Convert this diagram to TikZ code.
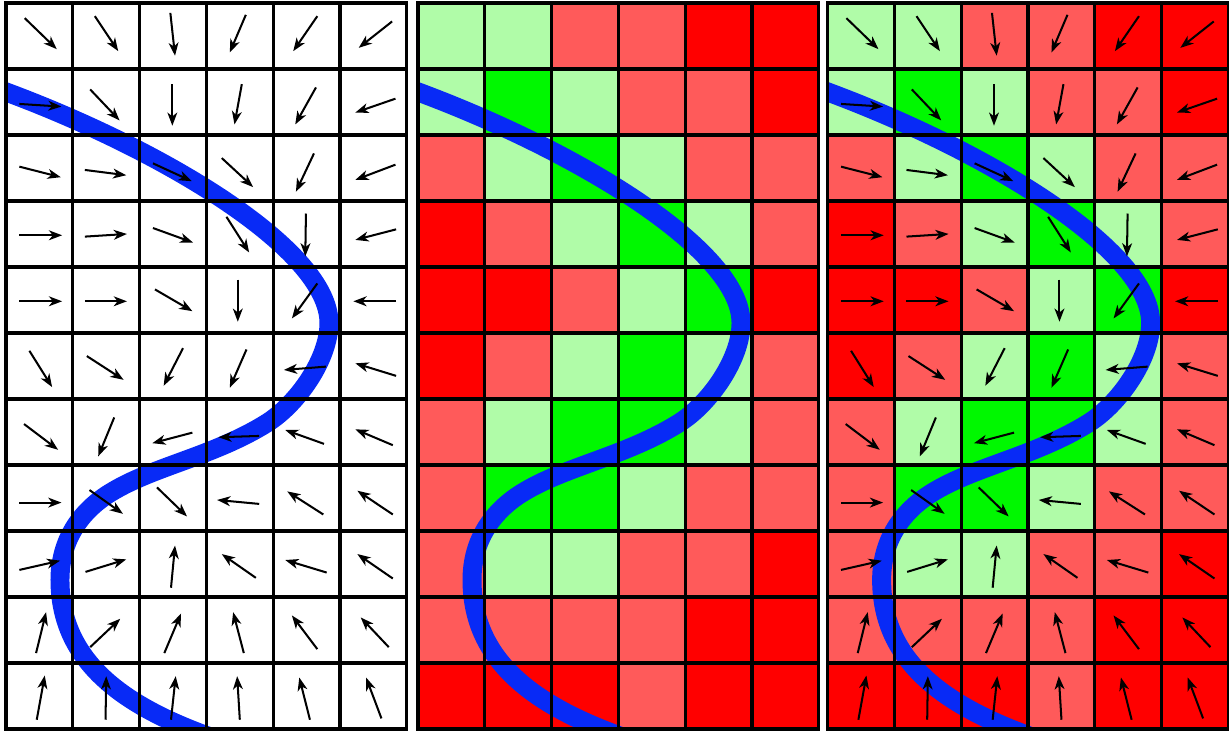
\documentclass[tikz,border=0pt]{standalone}
\usetikzlibrary{arrows.meta}

\definecolor{cellR}{RGB}{255,0,0}
\definecolor{cellP}{RGB}{255,90,90}
\definecolor{cellM}{RGB}{176,252,168}
\definecolor{cellG}{RGB}{0,248,0}
\definecolor{pathBlue}{RGB}{8,42,246}

\tikzset{
  gridline/.style={black, line width=1.8pt, line cap=rect},
  flowarrow/.style={black, line width=1.15pt, -{Stealth[length=7.5pt, width=5.6pt, inset=2.2pt]}},
  cutline/.style={pathBlue, line width=10.8pt},
}

% cell colours, top row first
\newcommand{\fillcells}[1]{%
  \foreach \cols [count=\r from 0] in {{M,M,P,P,R,R},{M,G,M,P,P,R},{P,M,G,M,P,P},
      {R,P,M,G,M,P},{R,R,P,M,G,R},{R,P,M,G,M,P},{P,M,G,G,M,P},{P,G,G,M,P,P},
      {P,M,M,P,P,R},{P,P,P,P,R,R},{R,R,R,P,R,R}}
    \foreach \k [count=\c from 0] in \cols
      \fill[cell\k] ({#1+\c},{10-\r}) rectangle ++(1,1);
}

% the blue line, clipped to its panel
\newcommand{\drawcut}[1]{%
  \begin{scope}
    \clip (#1,0) rectangle ++(6,11);
    \draw[cutline, shift={(#1,0)}] (-0.3,9.765) -- (0,9.652)
      .. controls (2.4,8.75) and (4.835,7.25) .. (4.835,6.152)
      .. controls (4.835,5.6) and (4.357,4.921) .. (3.907,4.636)
      .. controls (3.107,4.13) and (2.2,3.98) .. (1.557,3.576)
      .. controls (1.107,3.294) and (0.808,2.85) .. (0.808,2.258)
      .. controls (0.808,1.0) and (1.8,0.35) .. (2.979,-0.091)
      -- (3.5,-0.286);
  \end{scope}
}

\newcommand{\drawgrid}[1]{%
  \foreach \i in {0,...,6}
    \draw[gridline] ({#1+\i},0) -- ({#1+\i},11);
  \foreach \j in {0,...,11}
    \draw[gridline] (#1,\j) -- ({#1+6},\j);
}

% row/col/start/end, fractions of a cell measured from its top left
\newcommand{\drawflow}[1]{%
  \foreach \r/\c/\xa/\ya/\xb/\yb in {
      0/0/.28/.23/.76/.70, 0/1/.33/.20/.68/.73, 0/2/.46/.15/.53/.80,
      0/3/.59/.18/.35/.75, 0/4/.66/.20/.30/.73, 0/5/.78/.28/.28/.68,
      1/0/.20/.53/.83/.57, 1/1/.26/.31/.70/.78, 1/2/.49/.23/.49/.86,
      1/3/.53/.23/.42/.84, 1/4/.64/.28/.33/.84, 1/5/.83/.45/.23/.66,
      2/0/.20/.48/.82/.64, 2/1/.18/.53/.80/.61, 2/2/.20/.43/.78/.70,
      2/3/.23/.35/.70/.79, 2/4/.61/.28/.34/.86, 2/5/.83/.45/.23/.68,
      3/0/.20/.52/.84/.52, 3/1/.18/.54/.81/.50, 3/2/.20/.41/.80/.63,
      3/3/.30/.24/.64/.78, 3/4/.49/.19/.48/.84, 3/5/.84/.43/.23/.59,
      4/0/.20/.52/.84/.52, 4/1/.18/.52/.81/.52, 4/2/.23/.34/.79/.67,
      4/3/.47/.19/.47/.83, 4/4/.66/.25/.28/.78, 4/5/.84/.52/.20/.52,
      5/0/.35/.27/.69/.82, 5/1/.21/.35/.76/.71, 5/2/.65/.23/.36/.80,
      5/3/.60/.25/.35/.83, 5/4/.79/.51/.16/.56, 5/5/.84/.65/.23/.46,
      6/0/.27/.38/.78/.77, 6/1/.62/.28/.38/.87, 6/2/.79/.51/.19/.67,
      6/3/.79/.56/.18/.58, 6/4/.76/.68/.18/.47, 6/5/.79/.70/.23/.46,
      7/0/.20/.57/.83/.57, 7/1/.25/.38/.75/.74, 7/2/.26/.34/.71/.78,
      7/3/.79/.59/.16/.53, 7/4/.75/.75/.21/.40, 7/5/.79/.75/.26/.39,
      8/0/.20/.59/.81/.45, 8/1/.19/.62/.80/.43, 8/2/.47/.86/.53/.22,
      8/3/.74/.71/.23/.35, 8/4/.80/.63/.18/.44, 8/5/.79/.72/.26/.35,
      9/0/.45/.85/.60/.23, 9/1/.26/.76/.71/.33, 9/2/.37/.85/.62/.25,
      9/3/.56/.85/.40/.23, 9/4/.66/.79/.28/.28, 9/5/.73/.76/.31/.31,
      10/0/.46/.86/.58/.19, 10/1/.49/.86/.50/.20, 10/2/.47/.86/.54/.20,
      10/3/.50/.86/.46/.20, 10/4/.55/.86/.39/.22, 10/5/.62/.84/.39/.22}
    \draw[flowarrow] ({#1+\c+\xa},{11-\r-\ya}) -- ({#1+\c+\xb},{11-\r-\yb});
}

\begin{document}
\begin{tikzpicture}[x=1.336cm, y=1.32cm]
  \useasboundingbox (-0.09,-0.03) rectangle (18.308,11.045);
  \fill[white] (-0.09,-0.03) rectangle (18.308,11.045);

  % left: flow only
  \drawcut{0}
  \drawgrid{0}
  \drawflow{0}

  % middle: cells only
  \fillcells{6.168}
  \drawcut{6.168}
  \drawgrid{6.168}

  % right: cells and flow
  \fillcells{12.30}
  \drawcut{12.30}
  \drawgrid{12.30}
  \drawflow{12.30}
\end{tikzpicture}
\end{document}
